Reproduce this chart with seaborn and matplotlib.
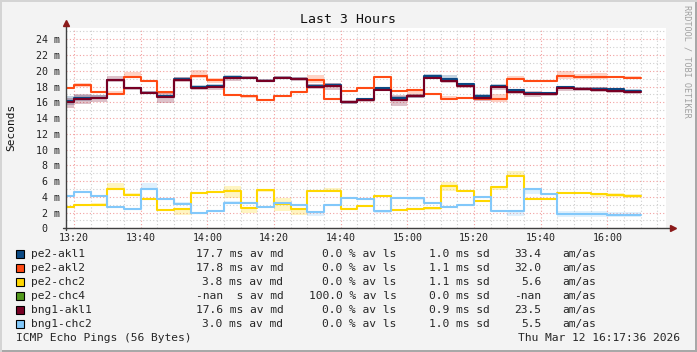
import matplotlib
matplotlib.use("Agg")
import matplotlib.pyplot as plt
import matplotlib.ticker as mticker
from matplotlib.patches import Rectangle
import seaborn as sns
import numpy as np
import pandas as pd

# ---- data ----
# 5-minute slots starting at 13:15, last slot ends 16:10
slot_start = 13 * 60 + 15
slot_len = 5

akl1_md = [16.2, 16.5, 16.6, 18.8, 17.85, 17.2, 16.75, 19.0, 18.0, 18.1, 19.2, 19.15, 18.74, 19.15, 19.0, 18.1, 18.2, 16.0,
           16.4, 17.8, 16.6, 16.8, 19.3, 18.9, 18.3, 16.8, 18.1, 17.55, 17.2, 17.2, 17.9, 17.75, 17.7, 17.65, 17.5]
akl1_lo = [15.6, 16.2, 16.4, 18.7, 17.7, 17.0, 16.6, 18.9, 17.9, 18.0, 19.1, 19.0, 18.6, 19.0, 18.9, 17.9, 18.0, 15.8,
           16.2, 17.6, 16.4, 16.6, 19.1, 18.7, 18.1, 16.6, 17.9, 17.3, 17.0, 17.0, 17.7, 17.6, 17.5, 17.4, 17.3]
akl1_hi = [16.8, 16.9, 16.9, 19.0, 18.0, 17.5, 16.9, 19.2, 18.2, 18.3, 19.5, 19.3, 18.9, 19.4, 19.2, 18.3, 18.4, 16.2,
           16.6, 18.0, 16.8, 17.0, 19.6, 19.5, 18.5, 17.0, 18.3, 17.7, 17.3, 17.3, 18.1, 17.9, 17.9, 17.8, 17.7]

akl2_md = [17.8, 18.14, 17.3, 17.05, 19.2, 18.7, 17.34, 18.8, 19.3, 18.8, 16.9, 16.75, 16.3, 16.8, 17.3, 18.8, 16.45, 17.45,
           17.8, 19.2, 17.4, 17.55, 17.0, 16.4, 16.5, 16.4, 16.4, 18.95, 18.7, 18.7, 19.3, 19.25, 19.25, 19.25, 19.05]
akl2_lo = [17.7, 17.9, 17.2, 16.9, 19.1, 18.6, 17.0, 18.7, 19.1, 18.5, 16.8, 16.6, 16.2, 16.7, 17.2, 18.5, 16.3, 17.3,
           17.7, 19.1, 17.3, 16.8, 16.9, 16.3, 16.4, 16.3, 16.0, 18.8, 18.6, 18.6, 18.9, 19.0, 18.9, 19.1, 18.9]
akl2_hi = [17.9, 18.5, 17.4, 17.4, 19.9, 18.8, 17.5, 19.0, 20.1, 19.1, 17.0, 16.9, 16.4, 16.9, 17.4, 19.5, 16.5, 17.6,
           17.9, 19.3, 17.5, 17.6, 17.1, 16.8, 16.6, 16.5, 17.0, 19.3, 18.8, 18.8, 20.0, 19.6, 19.7, 19.4, 19.3]

chc2_md = [2.67, 2.92, 2.92, 5.04, 4.2, 3.69, 2.29, 2.42, 4.45, 4.58, 4.7, 2.54, 4.83, 3.09, 2.42, 4.7, 4.7, 2.42,
           2.84, 4.07, 2.33, 2.46, 2.58, 5.34, 4.75, 3.47, 5.22, 6.6, 3.73, 3.73, 4.49, 4.49, 4.36, 4.2, 4.07]
chc2_lo = [2.6, 2.85, 2.85, 4.95, 4.1, 3.6, 2.2, 1.7, 4.35, 4.45, 3.9, 1.9, 4.6, 2.2, 1.7, 4.6, 4.6, 2.35,
           2.75, 3.95, 2.25, 2.3, 2.3, 4.8, 4.6, 3.4, 4.9, 6.5, 3.6, 3.6, 4.4, 4.4, 4.0, 4.0, 3.9]
chc2_hi = [2.75, 3.0, 3.2, 5.7, 4.5, 3.8, 2.4, 2.5, 4.55, 4.8, 5.4, 2.6, 5.0, 3.9, 2.5, 4.8, 5.1, 2.5,
           2.95, 4.2, 2.45, 2.55, 2.65, 5.9, 4.85, 3.6, 5.4, 7.3, 3.85, 3.85, 4.6, 4.6, 4.5, 4.5, 4.35]

bakl1_md = [16.1, 16.45, 16.55, 18.8, 17.8, 17.15, 16.7, 18.85, 17.85, 17.9, 19.05, 19.1, 18.7, 19.1, 18.95, 18.0, 18.1, 16.0,
            16.35, 17.6, 16.3, 16.75, 19.1, 18.7, 18.1, 16.5, 17.9, 17.3, 17.0, 17.0, 17.8, 17.75, 17.6, 17.5, 17.3]
bakl1_lo = [15.3, 15.8, 16.0, 18.6, 17.6, 17.0, 15.9, 18.6, 17.6, 17.6, 18.7, 18.9, 18.6, 18.9, 18.7, 17.7, 17.6, 15.8,
            16.1, 17.4, 15.5, 16.5, 18.9, 18.5, 17.8, 16.2, 17.6, 17.1, 16.7, 16.8, 17.5, 17.5, 17.3, 17.2, 17.0]
bakl1_hi = [16.6, 17.0, 16.9, 19.4, 18.0, 17.4, 17.3, 19.2, 18.1, 18.2, 19.3, 19.3, 18.9, 19.3, 19.2, 18.3, 18.4, 16.3,
            16.6, 17.9, 16.9, 17.0, 19.4, 19.0, 18.4, 16.8, 18.1, 17.6, 17.4, 17.2, 18.1, 17.9, 17.9, 17.7, 17.5]

bchc2_md = [4.15, 4.58, 4.07, 2.67, 2.42, 4.96, 3.69, 3.05, 1.9, 2.16, 3.18, 3.18, 2.67, 3.22, 2.92, 2.03, 2.92, 3.8,
            3.69, 2.2, 3.8, 3.8, 3.22, 2.75, 2.92, 3.94, 2.2, 2.2, 4.96, 4.36, 1.78, 1.78, 1.78, 1.65, 1.65]
bchc2_lo = [4.05, 4.5, 4.0, 2.6, 2.35, 4.9, 3.6, 2.9, 1.8, 2.05, 3.1, 3.1, 2.6, 3.0, 2.85, 1.6, 2.85, 3.7,
            3.6, 2.0, 3.7, 3.6, 3.1, 2.65, 2.85, 3.85, 2.1, 1.5, 4.3, 4.2, 1.4, 1.4, 1.4, 1.4, 1.4]
bchc2_hi = [4.25, 4.7, 4.15, 2.75, 2.5, 5.8, 3.8, 3.3, 2.0, 2.3, 3.5, 3.3, 2.75, 3.3, 3.0, 2.1, 3.0, 3.9,
            3.8, 2.3, 3.9, 3.9, 3.3, 2.85, 3.0, 4.05, 2.3, 2.3, 5.0, 4.45, 2.2, 2.2, 2.2, 2.1, 2.1]

hosts = ["pe2-akl1", "pe2-akl2", "pe2-chc2", "pe2-chc4", "bng1-akl1", "bng1-chc2"]
colors = ["#0b4a84", "#ff4a14", "#ffd700", "#52991c", "#770024", "#82c8fa"]
avg_md = ["17.7 ms", "17.8 ms", "3.8 ms", "-nan  s", "17.6 ms", "3.0 ms"]
avg_ls = ["0.0", "0.0", "0.0", "100.0", "0.0", "0.0"]
sd = ["1.0", "1.1", "1.1", "0.0", "0.9", "1.0"]
am_as = ["33.4", "32.0", "5.6", "-nan", "23.5", "5.5"]

series = {
    "pe2-akl1": (akl1_md, akl1_lo, akl1_hi),
    "pe2-akl2": (akl2_md, akl2_lo, akl2_hi),
    "pe2-chc2": (chc2_md, chc2_lo, chc2_hi),
    "bng1-akl1": (bakl1_md, bakl1_lo, bakl1_hi),
    "bng1-chc2": (bchc2_md, bchc2_lo, bchc2_hi),
}

# ---- layout ----
W, H = 697, 352
MONO = "DejaVu Sans Mono"

sns.set_theme(style="white")
plt.rcParams["font.family"] = [MONO, "DejaVu Sans"]

fig = plt.figure(figsize=(W / 100, H / 100), dpi=100, facecolor="#f3f3f3")


def fx(x):
    return x / W


def fy(y):
    return 1 - y / H


ax = fig.add_axes([fx(66), fy(228.3), 600 / W, 200 / H], facecolor="white")

# long table for seaborn, with an extra point at the end for the last step
n = len(akl1_md)
t = [slot_start + slot_len * i for i in range(n + 1)]
frames = []
for h, (md, lo, hi) in series.items():
    frames.append(pd.DataFrame({"t": t, "ms": md + [md[-1]], "host": h}))
df = pd.concat(frames, ignore_index=True)

palette = dict(zip(hosts, colors))
for h, (md, lo, hi) in series.items():
    ax.fill_between(t, lo + [lo[-1]], hi + [hi[-1]], step="post", color=palette[h], alpha=0.24, lw=0, zorder=2)

sns.lineplot(data=df, x="t", y="ms", hue="host", hue_order=list(series.keys()), palette=palette,
             drawstyle="steps-post", estimator=None, legend=False, linewidth=1.5, ax=ax, zorder=3)

t_end = 16 * 60 + 17.6
ax.set_xlim(t_end - 180, t_end)
ax.set_ylim(0, 25.4)

ax.xaxis.set_major_locator(mticker.MultipleLocator(20))
ax.xaxis.set_minor_locator(mticker.MultipleLocator(5))
ax.yaxis.set_major_locator(mticker.MultipleLocator(2))
ax.yaxis.set_minor_locator(mticker.MultipleLocator(1))
ax.xaxis.set_major_formatter(mticker.FuncFormatter(lambda v, p: f"{int(v) // 60:02d}:{int(v) % 60:02d}"))
ax.yaxis.set_major_formatter(mticker.FuncFormatter(lambda v, p: "0  " if v == 0 else f"{int(v)} m"))

ax.grid(which="minor", color="#cfcfcf", linestyle=(0, (1, 2)), linewidth=0.8)
ax.grid(which="major", color="#f2a0a0", linestyle=(0, (1, 2)), linewidth=0.8)
ax.set_axisbelow(True)
ax.tick_params(which="both", length=0, labelsize=7.2, colors="#222222", pad=4.5)
ax.tick_params(axis="x", pad=3.5)
ax.set_xlabel("")
ax.set_ylabel("")
for s in ax.spines.values():
    s.set_visible(False)

# axis lines with arrow heads
ax.plot([0, 0], [-0.01, 1.02], transform=ax.transAxes, color="#404040", lw=1, clip_on=False, zorder=5)
ax.plot([-0.005, 1.01], [0, 0], transform=ax.transAxes, color="#404040", lw=1, clip_on=False, zorder=5)
ax.plot([0], [1.025], transform=ax.transAxes, marker="^", ms=5, color="#8b1a1a", clip_on=False, zorder=6)
ax.plot([1.012], [0], transform=ax.transAxes, marker=">", ms=5, color="#8b1a1a", clip_on=False, zorder=6)

# titles
fig.text(fx(347.5), fy(19.3), "Last 3 Hours", ha="center", va="center", fontsize=9.5, family=MONO, color="#111111")
fig.text(fx(11), fy(127), "Seconds", rotation=90, ha="center", va="center", fontsize=8, family=MONO, color="#111111")
fig.text(fx(687), fy(5), "RRDTOOL / TOBI OETIKER", rotation=-90, ha="center", va="top", fontsize=6.1,
         family=MONO, color="#a0a0a0")

# legend block
fs = 8.1
for i, h in enumerate(hosts):
    y = fy(254.3 + 14 * i)
    fig.patches.append(Rectangle((fx(16), y - 4 / H), 8 / W, 8 / H, transform=fig.transFigure,
                                 facecolor=palette[h], edgecolor="black", lw=0.8))
    fig.text(fx(30.7), y, h, ha="left", va="center", fontsize=fs, family=MONO)
    fig.text(fx(283.5), y, f"{avg_md[i]} av md", ha="right", va="center", fontsize=fs, family=MONO)
    fig.text(fx(396.7), y, f"{avg_ls[i]} % av ls", ha="right", va="center", fontsize=fs, family=MONO)
    fig.text(fx(490), y, f"{sd[i]} ms sd", ha="right", va="center", fontsize=fs, family=MONO)
    fig.text(fx(541), y, am_as[i], ha="right", va="center", fontsize=fs, family=MONO)
    fig.text(fx(562.7), y, "am/as", ha="left", va="center", fontsize=fs, family=MONO)

fig.text(fx(16.5), fy(338.3), "ICMP Echo Pings (56 Bytes)", ha="left", va="center", fontsize=fs, family=MONO)
fig.text(fx(680), fy(338.3), "Thu Mar 12 16:17:36 2026", ha="right", va="center", fontsize=fs, family=MONO)

# outer frame (rrdtool style)
fig.patches.append(Rectangle((0, 0), 1, 2.5 / H, transform=fig.transFigure, facecolor="#a8a8a8", lw=0))
fig.patches.append(Rectangle((1 - 2.5 / W, 0), 2.5 / W, 1, transform=fig.transFigure, facecolor="#a8a8a8", lw=0))
fig.patches.append(Rectangle((0, 0), 1.5 / W, 1, transform=fig.transFigure, facecolor="#d4d4d4", lw=0))
fig.patches.append(Rectangle((0, 1 - 1.5 / H), 1, 1.5 / H, transform=fig.transFigure, facecolor="#d4d4d4", lw=0))

fig.savefig("out.png", dpi=100, facecolor=fig.get_facecolor())
